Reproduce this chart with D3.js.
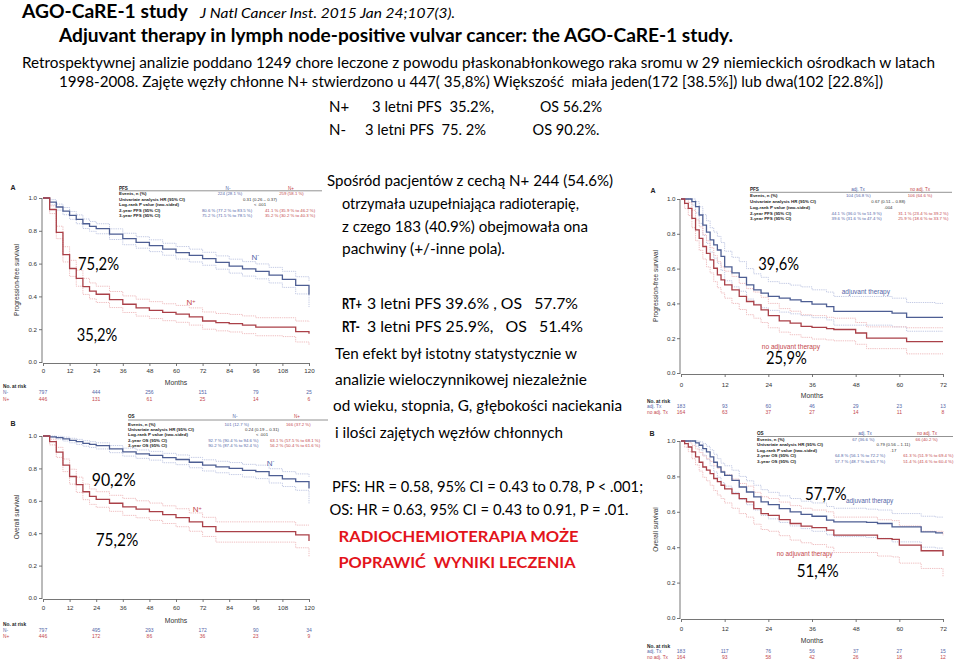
<!DOCTYPE html>
<html><head><meta charset="utf-8">
<script src="https://cdn.jsdelivr.net/npm/d3@7"></script>
<style>body{margin:0;background:#fff;} svg{display:block;} text{white-space:pre;}</style>
</head><body><svg id="c" width="960" height="663"></svg>
<script>
// ---------- DATA ----------
const yTicks = [0, 0.2, 0.4, 0.6, 0.8, 1.0];
const xTicksLeft = [0, 12, 24, 36, 48, 60, 72, 84, 96, 108, 120];
const xTicksRight = [0, 12, 24, 36, 48, 60, 72];

const monthsLeft = [0,3,6,9,12,15,18,21,24,30,36,42,48,54,60,66,72,78,84,90,96,102,108,114,120];
const pfsNneg   = [1.0,0.975,0.945,0.92,0.894,0.87,0.843,0.827,0.813,0.78,0.752,0.73,0.71,0.688,0.667,0.65,0.63,0.607,0.585,0.568,0.553,0.53,0.504,0.467,0.41];
const pfsNnegHi = [1.0,0.99,0.963,0.942,0.918,0.897,0.872,0.857,0.843,0.812,0.785,0.764,0.745,0.724,0.704,0.688,0.669,0.647,0.627,0.612,0.598,0.577,0.553,0.52,0.49];
const pfsNnegLo = [1.0,0.958,0.926,0.898,0.87,0.843,0.814,0.797,0.782,0.747,0.715,0.694,0.673,0.651,0.628,0.61,0.59,0.566,0.542,0.524,0.507,0.482,0.455,0.415,0.335];
const pfsNpos   = [1.0,0.93,0.79,0.655,0.57,0.51,0.46,0.432,0.413,0.38,0.352,0.33,0.315,0.302,0.292,0.275,0.25,0.24,0.234,0.225,0.213,0.213,0.213,0.185,0.173];
const pfsNposHi = [1.0,0.952,0.828,0.703,0.62,0.56,0.51,0.482,0.462,0.43,0.403,0.383,0.368,0.355,0.345,0.33,0.305,0.296,0.29,0.281,0.27,0.27,0.27,0.25,0.245];
const pfsNposLo = [1.0,0.905,0.752,0.61,0.522,0.462,0.412,0.385,0.363,0.332,0.302,0.28,0.265,0.252,0.242,0.225,0.2,0.19,0.183,0.173,0.16,0.16,0.155,0.122,0.1];
const osNneg    = [1.0,0.995,0.99,0.982,0.973,0.965,0.955,0.948,0.94,0.92,0.902,0.89,0.88,0.866,0.855,0.838,0.82,0.81,0.8,0.788,0.78,0.755,0.735,0.718,0.676];
const osNnegHi  = [1.0,1.0,0.998,0.993,0.986,0.979,0.971,0.965,0.958,0.941,0.925,0.914,0.905,0.893,0.883,0.868,0.853,0.844,0.836,0.825,0.82,0.798,0.78,0.766,0.748];
const osNnegLo  = [1.0,0.99,0.981,0.969,0.958,0.948,0.937,0.929,0.92,0.897,0.876,0.862,0.851,0.835,0.823,0.804,0.784,0.773,0.762,0.747,0.737,0.71,0.688,0.665,0.584];
const osNpos    = [1.0,0.965,0.9,0.82,0.75,0.7,0.656,0.627,0.609,0.585,0.563,0.548,0.533,0.515,0.496,0.47,0.44,0.41,0.41,0.41,0.41,0.41,0.41,0.39,0.352];
const osNposHi  = [1.0,0.98,0.93,0.858,0.795,0.746,0.703,0.673,0.656,0.634,0.615,0.6,0.586,0.569,0.551,0.525,0.498,0.47,0.47,0.47,0.47,0.47,0.47,0.45,0.45];
const osNposLo  = [1.0,0.945,0.868,0.78,0.703,0.652,0.607,0.578,0.56,0.535,0.51,0.495,0.479,0.46,0.44,0.412,0.38,0.345,0.345,0.345,0.345,0.345,0.345,0.31,0.256];

const monthsRight = [0,1,2,3,4,5,6,7,8,9,10,11,12,14,16,18,20,22,24,27,30,33,36,40,42,48,51,54,58,60,62,66,70,72];
const pfsAdj     = [1,1,1,0.985,0.956,0.908,0.85,0.81,0.765,0.736,0.707,0.67,0.61,0.575,0.55,0.507,0.478,0.459,0.44,0.43,0.42,0.41,0.396,0.382,0.354,0.354,0.354,0.354,0.344,0.344,0.32,0.32,0.32,0.32];
const pfsAdjHi   = [1,1,1,1,0.985,0.955,0.91,0.875,0.835,0.81,0.785,0.75,0.70,0.665,0.64,0.60,0.57,0.55,0.525,0.515,0.505,0.495,0.478,0.465,0.44,0.44,0.44,0.44,0.43,0.43,0.405,0.405,0.40,0.40];
const pfsAdjLo   = [1,1,1,0.965,0.92,0.86,0.79,0.745,0.695,0.66,0.63,0.59,0.53,0.495,0.47,0.425,0.395,0.375,0.36,0.35,0.34,0.33,0.318,0.305,0.275,0.275,0.275,0.275,0.265,0.265,0.24,0.24,0.24,0.24];
const pfsNoAdj   = [1,0.975,0.946,0.889,0.822,0.774,0.727,0.688,0.65,0.602,0.564,0.535,0.507,0.478,0.44,0.411,0.392,0.363,0.33,0.30,0.287,0.268,0.262,0.255,0.25,0.23,0.2,0.2,0.2,0.2,0.18,0.18,0.18,0.18];
const pfsNoAdjHi = [1,1,0.98,0.935,0.88,0.84,0.795,0.76,0.72,0.675,0.64,0.61,0.585,0.555,0.515,0.485,0.465,0.435,0.40,0.37,0.355,0.335,0.33,0.32,0.315,0.29,0.265,0.265,0.265,0.265,0.26,0.26,0.26,0.26];
const pfsNoAdjLo = [1,0.945,0.905,0.835,0.76,0.705,0.655,0.61,0.575,0.525,0.49,0.46,0.43,0.40,0.365,0.335,0.315,0.29,0.26,0.235,0.22,0.205,0.195,0.19,0.185,0.165,0.14,0.14,0.14,0.14,0.11,0.11,0.11,0.11];
const osAdj      = [1,1,1,1,0.989,0.976,0.957,0.938,0.91,0.88,0.853,0.825,0.806,0.778,0.74,0.712,0.684,0.656,0.64,0.618,0.6,0.586,0.575,0.553,0.543,0.543,0.54,0.534,0.515,0.515,0.515,0.487,0.481,0.481];
const osAdjHi    = [1,1,1,1,1,0.995,0.985,0.97,0.95,0.925,0.9,0.875,0.86,0.835,0.8,0.775,0.75,0.725,0.71,0.69,0.675,0.66,0.65,0.63,0.62,0.62,0.615,0.61,0.59,0.59,0.59,0.575,0.57,0.57];
const osAdjLo    = [1,1,1,1,0.97,0.95,0.92,0.895,0.86,0.825,0.795,0.765,0.745,0.71,0.67,0.64,0.61,0.58,0.56,0.54,0.52,0.505,0.49,0.47,0.46,0.46,0.455,0.45,0.43,0.43,0.43,0.40,0.395,0.395];
const osNoAdj    = [1,0.985,0.966,0.938,0.91,0.88,0.853,0.835,0.816,0.788,0.77,0.75,0.73,0.703,0.675,0.656,0.618,0.59,0.58,0.556,0.534,0.519,0.511,0.496,0.468,0.468,0.468,0.449,0.444,0.412,0.412,0.38,0.38,0.35];
const osNoAdjHi  = [1,1,0.99,0.975,0.955,0.935,0.915,0.9,0.885,0.86,0.845,0.83,0.81,0.785,0.76,0.745,0.71,0.685,0.675,0.655,0.635,0.62,0.61,0.6,0.57,0.57,0.57,0.555,0.55,0.52,0.52,0.49,0.49,0.465];
const osNoAdjLo  = [1,0.965,0.94,0.9,0.865,0.83,0.795,0.775,0.75,0.72,0.695,0.675,0.65,0.62,0.59,0.57,0.53,0.5,0.49,0.465,0.44,0.425,0.415,0.4,0.37,0.37,0.37,0.35,0.345,0.31,0.31,0.28,0.28,0.235];

const riskMonthsLeft = [0, 24, 48, 72, 96, 120];
const riskPfsNneg = [797, 444, 256, 151, 79, 25];
const riskPfsNpos = [446, 131, 61, 25, 14, 6];
const riskOsNneg  = [797, 495, 293, 172, 90, 34];
const riskOsNpos  = [446, 172, 86, 36, 23, 9];
const riskMonthsRight = [0, 12, 24, 36, 48, 60, 72];
const riskPfsAdj   = [183, 93, 60, 46, 29, 23, 13];
const riskPfsNoAdj = [164, 63, 37, 27, 14, 11, 8];
const riskOsAdj    = [183, 117, 76, 56, 37, 27, 15];
const riskOsNoAdj  = [164, 93, 58, 42, 26, 18, 12];

const rowLabelsPfs = ["Events, n (%)", "Univariate analysis HR (95% CI)", "Log-rank P value (two-sided)", "2-year PFS (95% CI)", "3-year PFS (95% CI)"];
const rowLabelsOs  = ["Events, n (%)", "Univariate analysis HR (95% CI)", "Log-rank P value (two-sided)", "2-year OS (95% CI)", "3-year OS (95% CI)"];
const tabLeftA  = [["224 (28.1 %)", "259 (58.1 %)"], "0.31 (0.26 – 0.37)", "< .001", ["80.6 % (77.2 % to 83.5 %)", "41.1 % (35.9 % to 46.2 %)"], ["75.2 % (71.5 % to 78.5 %)", "35.2 % (30.2 % to 40.3 %)"]];
const tabLeftB  = [["101 (12.7 %)", "166 (37.2 %)"], "0.24 (0.19 – 0.31)", "< .001", ["92.7 % (90.4 % to 94.6 %)", "63.1 % (57.5 % to 68.1 %)"], ["90.2 % (87.4 % to 92.4 %)", "56.2 % (50.4 % to 61.6 %)"]];
const tabRightA = [["104 (56.8 %)", "106 (64.6 %)"], "0.67 (0.51 – 0.88)", ".004", ["44.1 % (36.0 % to 51.9 %)", "31.1 % (23.4 % to 39.2 %)"], ["39.6 % (31.6 % to 47.4 %)", "25.9 % (18.6 % to 33.7 %)"]];
const tabRightB = [["67 (36.6 %)", "66 (40.2 %)"], "0.79 (0.56 – 1.11)", ".17", ["64.8 % (56.1 % to 72.2 %)", "61.3 % (51.9 % to 69.4 %)"], ["57.7 % (48.7 % to 65.7 %)", "51.4 % (41.6 % to 60.4 %)"]];

// ---------- STYLE ----------
const BODY = "Lato, 'Open Sans', sans-serif";
const CH = "'Liberation Sans', Arial, sans-serif";
const BLUE = "#4d5e93", RED = "#aa4048";
const BLUE_T = "#5466a8", RED_T = "#c4484d";
const BLUE_CI = "#c3cae4", RED_CI = "#efbfc1";
const svg = d3.select("#c");

function txt(parent, x, y, s, o) {
  o = o || {};
  const t = parent.append("text").attr("x", x).attr("y", y).text(s)
    .attr("font-family", o.font || BODY).attr("font-size", o.size || 15)
    .attr("fill", o.color || "#000");
  if (o.weight) t.attr("font-weight", o.weight);
  if (o.style) t.attr("font-style", o.style);
  if (o.anchor) t.attr("text-anchor", o.anchor);
  if (o.w) t.attr("textLength", o.w).attr("lengthAdjust", "spacingAndGlyphs");
  return t;
}

// ---------- SLIDE TEXT ----------
txt(svg, 22, 17.5, "AGO-CaRE-1 study", {size: 18.5, weight: 700, w: 166});
txt(svg, 200, 17.5, "J Natl Cancer Inst. 2015 Jan 24;107(3).", {size: 14, style: "italic", w: 255});
txt(svg, 59, 41.5, "Adjuvant therapy in lymph node-positive vulvar cancer: the AGO-CaRE-1 study.", {size: 18.5, weight: 700, w: 674});
txt(svg, 22, 68.3, "Retrospektywnej analizie poddano 1249 chore leczone z powodu płaskonabłonkowego raka sromu w 29 niemieckich ośrodkach w latach", {size: 14.5, w: 913});
txt(svg, 59, 86.5, "1998-2008. Zajęte węzły chłonne N+ stwierdzono u 447( 35,8%) Większość  miała jeden(172 [38.5%]) lub dwa(102 [22.8%])", {size: 14.5, w: 824});
txt(svg, 329, 112, "N+", {size: 15});
txt(svg, 372, 112, "3 letni PFS  35.2%,", {size: 15, w: 122});
txt(svg, 540, 112, "OS 56.2%", {size: 15, w: 62});
txt(svg, 329, 134.5, "N-", {size: 15});
txt(svg, 365, 134.5, "3 letni PFS  75. 2%", {size: 15, w: 121});
txt(svg, 532.5, 134.5, "OS 90.2%.", {size: 15, w: 67});

txt(svg, 327, 186, "Spośród pacjentów z cechą N+ 244 (54.6%)", {size: 15, w: 286});
txt(svg, 342, 209.3, "otrzymała uzupełniająca radioterapię,", {size: 15, w: 237});
txt(svg, 342, 231.7, "z czego 183 (40.9%) obejmowała ona", {size: 15, w: 246});
txt(svg, 342, 254, "pachwiny (+/-inne pola).", {size: 15, w: 163});
txt(svg, 342, 309.3, "RT+", {size: 15, weight: 700, w: 20});
txt(svg, 367, 309.3, "3 letni PFS 39.6% , OS   57.7%", {size: 15, w: 211});
txt(svg, 342, 331.7, "RT-", {size: 15, weight: 700, w: 18});
txt(svg, 367, 331.7, "3 letni PFS 25.9%,   OS   51.4%", {size: 15, w: 216});
txt(svg, 335, 359.3, "Ten efekt był istotny statystycznie w", {size: 15, w: 242});
txt(svg, 335, 385, "analizie wieloczynnikowej niezależnie", {size: 15, w: 252});
txt(svg, 333, 410.7, "od wieku, stopnia, G, głębokości naciekania", {size: 15, w: 289});
txt(svg, 335, 438.3, "i ilości zajętych węzłów chłonnych", {size: 15, w: 228});
txt(svg, 332, 491.7, "PFS: HR = 0.58, 95% CI = 0.43 to 0.78, P < .001;", {size: 15, w: 311});
txt(svg, 329.5, 515, "OS: HR = 0.63, 95% CI = 0.43 to 0.91, P = .01.", {size: 15, w: 299});
txt(svg, 338.5, 541.7, "RADIOCHEMIOTERAPIA MOŻE", {size: 15, weight: 700, color: "#e3141b", w: 240});
txt(svg, 338.5, 568.3, "POPRAWIĆ  WYNIKI LECZENIA", {size: 15, weight: 700, color: "#e3141b", w: 237});

// ---------- PANELS ----------
function panel(p) {
  const g = svg.append("g");
  const x = d3.scaleLinear().domain([0, p.xmax]).range([p.left, p.right]);
  const y = d3.scaleLinear().domain([0, 1]).range([p.bottom, p.top]);

  const xa = g.append("g").attr("transform", `translate(0,${p.bottom + 1})`)
    .call(d3.axisBottom(x).tickValues(p.xticks).tickSize(3).tickSizeOuter(0).tickPadding(p.xpad).tickFormat(d3.format("d")));
  const ya = g.append("g").attr("transform", `translate(${p.left - 1},0)`)
    .call(d3.axisLeft(y).tickValues(yTicks).tickSize(3).tickSizeOuter(0).tickPadding(p.ypad).tickFormat(d3.format(".1f")));
  [xa, ya].forEach(a => {
    a.selectAll("path,line").attr("stroke", "#666").attr("stroke-width", 0.9);
    a.selectAll("text").attr("font-family", CH).attr("font-size", 6.2).attr("fill", "#333");
  });
  ya.select(".domain").attr("d", `M0,${p.bottom + 1}V${p.top}`);

  const line = d3.line().x((d, i) => x(p.months[i])).y(d => y(d)).curve(d3.curveStepAfter);
  p.series.forEach(s => {
    [s.hi, s.lo].forEach(ci => g.append("path").attr("d", line(ci)).attr("fill", "none")
      .attr("stroke", s.ci).attr("stroke-width", 1).attr("stroke-dasharray", "1.3,0.9"));
  });
  p.series.forEach(s => g.append("path").attr("d", line(s.vals)).attr("fill", "none")
    .attr("stroke", s.color).attr("stroke-width", 1.3));

  // axis titles
  txt(g, (p.left + p.right) / 2, p.monthsY, "Months", {font: CH, size: 6.8, anchor: "middle", color: "#333"});
  txt(g, 0, 0, p.ytitle, {font: CH, size: 6.5, anchor: "middle", color: "#333"})
    .attr("transform", `translate(${p.ytitleX},${(p.top + p.bottom) / 2}) rotate(-90)`);
  txt(g, p.letterX, p.letterY, p.letter, {font: CH, size: 7, weight: 700, anchor: "middle", color: "#222"});

  // risk table
  txt(g, p.riskX, p.riskY[0], "No. at risk", {font: CH, size: 4.8, weight: 700, color: "#222"});
  p.risk.forEach((r, k) => {
    txt(g, p.riskX, p.riskY[k + 1], r.label, {font: CH, size: 4.8, color: r.color});
    r.vals.forEach((v, i) => txt(g, x(p.riskMonths[i]), p.riskY[k + 1], String(v),
      {font: CH, size: 5, anchor: "middle", color: r.color}));
  });

  // summary table
  const t = p.table;
  txt(g, t.x, t.hy, t.title, {font: CH, size: 4.6, weight: 700, color: "#222"});
  txt(g, t.c1, t.hy, t.h1, {font: CH, size: 4.6, anchor: "middle", color: BLUE_T});
  txt(g, t.c2, t.hy, t.h2, {font: CH, size: 4.6, anchor: "middle", color: RED_T});
  g.append("line").attr("x1", t.x).attr("x2", t.x2).attr("y1", t.ly).attr("y2", t.ly)
    .attr("stroke", "#777").attr("stroke-width", 0.8);
  t.labels.forEach((lab, i) => {
    const yy = t.rows[i];
    txt(g, t.x, yy, lab, {font: CH, size: 4.4, weight: 700, color: "#222"});
    const v = t.vals[i];
    if (Array.isArray(v)) {
      txt(g, i === 0 ? t.e1 : t.v1, yy, v[0], {font: CH, size: 4.3, anchor: "middle", color: BLUE_T});
      txt(g, i === 0 ? t.e2 : t.v2, yy, v[1], {font: CH, size: 4.3, anchor: "middle", color: RED_T});
    } else {
      txt(g, t.mid, yy, v, {font: CH, size: 4.3, anchor: "middle", color: "#333"});
    }
  });

  // curve labels
  p.labels.forEach(l => {
    const tt = txt(g, l.x, l.y, l.text, {font: CH, size: l.size, color: l.color});
    if (l.sup) tt.append("tspan").attr("dy", -2.5).attr("font-size", l.size * 0.7).text(l.sup);
    if (l.w) tt.attr("textLength", l.w).attr("lengthAdjust", "spacingAndGlyphs");
  });
  // overlay percentages
  p.overlays.forEach(o => txt(g, o.x, o.y, o.text, {size: 16.5, color: "#000", w: o.w}));
}

panel({
  left: 43, right: 309, top: 198, bottom: 362, xmax: 120, xticks: xTicksLeft, xpad: 2.5, ypad: 2,
  months: monthsLeft, monthsY: 384.5, ytitle: "Progression-free survival", ytitleX: 19, letter: "A", letterX: 13, letterY: 189.5,
  series: [
    {vals: pfsNneg, hi: pfsNnegHi, lo: pfsNnegLo, color: BLUE, ci: BLUE_CI},
    {vals: pfsNpos, hi: pfsNposHi, lo: pfsNposLo, color: RED, ci: RED_CI}],
  riskX: 3, riskY: [388, 394, 401], riskMonths: riskMonthsLeft,
  risk: [{label: "N-", vals: riskPfsNneg, color: BLUE_T}, {label: "N+", vals: riskPfsNpos, color: RED_T}],
  table: {title: "PFS", h1: "N-", h2: "N+", x: 119, x2: 322, hy: 189.5, ly: 190.8, c1: 228, c2: 291,
    rows: [195, 200.7, 206, 211.7, 217.4], labels: rowLabelsPfs, vals: tabLeftA,
    e1: 230, e2: 291.5, v1: 227, v2: 290, mid: 260},
  labels: [{text: "N", sup: "-", x: 251.5, y: 259.5, size: 8, color: BLUE_T},
           {text: "N", sup: "+", x: 186.5, y: 305, size: 8, color: RED_T}],
  overlays: [{text: "75,2%", x: 78, y: 270, w: 41}, {text: "35,2%", x: 76.7, y: 340.7, w: 40.6}]
});

panel({
  left: 43, right: 309, top: 436, bottom: 598, xmax: 120, xticks: xTicksLeft, xpad: 4, ypad: 2,
  months: monthsLeft, monthsY: 623, ytitle: "Overall survival", ytitleX: 19, letter: "B", letterX: 13, letterY: 425.5,
  series: [
    {vals: osNneg, hi: osNnegHi, lo: osNnegLo, color: BLUE, ci: BLUE_CI},
    {vals: osNpos, hi: osNposHi, lo: osNposLo, color: RED, ci: RED_CI}],
  riskX: 3, riskY: [626, 632, 637.7], riskMonths: riskMonthsLeft,
  risk: [{label: "N-", vals: riskOsNneg, color: BLUE_T}, {label: "N+", vals: riskOsNpos, color: RED_T}],
  table: {title: "OS", h1: "N-", h2: "N+", x: 128, x2: 328, hy: 418.3, ly: 420, c1: 235, c2: 297,
    rows: [425.8, 430.7, 436, 441.6, 446.7], labels: rowLabelsOs, vals: tabLeftB,
    e1: 236.7, e2: 298.3, v1: 233.3, v2: 295, mid: 262},
  labels: [{text: "N", sup: "-", x: 266.7, y: 465.7, size: 8, color: BLUE_T},
           {text: "N", sup: "+", x: 192.7, y: 512.3, size: 8, color: RED_T}],
  overlays: [{text: "90,2%", x: 91.7, y: 485.7, w: 44}, {text: "75,2%", x: 95.7, y: 546, w: 42.6}]
});

panel({
  left: 681, right: 943, top: 199, bottom: 373, xmax: 72, xticks: xTicksRight, xpad: 5.5, ypad: 1.5,
  months: monthsRight, monthsY: 398, ytitle: "Progression-free survival", ytitleX: 657.5, letter: "A", letterX: 653, letterY: 192.5,
  series: [
    {vals: pfsAdj, hi: pfsAdjHi, lo: pfsAdjLo, color: BLUE, ci: BLUE_CI},
    {vals: pfsNoAdj, hi: pfsNoAdjHi, lo: pfsNoAdjLo, color: RED, ci: RED_CI}],
  riskX: 647, riskY: [402.5, 407.5, 414], riskMonths: riskMonthsRight,
  risk: [{label: "adj. Tx", vals: riskPfsAdj, color: BLUE_T}, {label: "no adj. Tx", vals: riskPfsNoAdj, color: RED_T}],
  table: {title: "PFS", h1: "adj. Tx", h2: "no adj. Tx", x: 750, x2: 952, hy: 190.8, ly: 192.3, c1: 858, c2: 920,
    rows: [197.4, 203, 209, 214.7, 220.4], labels: rowLabelsPfs, vals: tabRightA,
    e1: 858.3, e2: 920, v1: 856.7, v2: 923.3, mid: 888.3},
  labels: [{text: "adjuvant therapy", x: 841.7, y: 294.3, size: 6.6, color: BLUE_T, w: 48.3},
           {text: "no adjuvant therapy", x: 761.7, y: 349, size: 6.6, color: RED_T, w: 58.3}],
  overlays: [{text: "39,6%", x: 758.3, y: 270, w: 40.7}, {text: "25,9%", x: 766, y: 364.3, w: 40.7}]
});

panel({
  left: 681, right: 943, top: 441, bottom: 618, xmax: 72, xticks: xTicksRight, xpad: 5, ypad: 1.5,
  months: monthsRight, monthsY: 643, ytitle: "Overall survival", ytitleX: 657.5, letter: "B", letterX: 652, letterY: 435.5,
  series: [
    {vals: osAdj, hi: osAdjHi, lo: osAdjLo, color: BLUE, ci: BLUE_CI},
    {vals: osNoAdj, hi: osNoAdjHi, lo: osNoAdjLo, color: RED, ci: RED_CI}],
  riskX: 647, riskY: [647.5, 652.5, 659], riskMonths: riskMonthsRight,
  risk: [{label: "adj. Tx", vals: riskOsAdj, color: BLUE_T}, {label: "no adj. Tx", vals: riskOsNoAdj, color: RED_T}],
  table: {title: "OS", h1: "adj. Tx", h2: "no adj. Tx", x: 757, x2: 953, hy: 435, ly: 436.5, c1: 865, c2: 927,
    rows: [440.7, 446, 451.7, 457.4, 462.7], labels: rowLabelsOs, vals: tabRightB,
    e1: 863.3, e2: 926.7, v1: 860, v2: 928.3, mid: 893.3},
  labels: [{text: "adjuvant therapy", x: 846, y: 503.3, size: 6.6, color: BLUE_T, w: 47.3},
           {text: "no adjuvant therapy", x: 776.7, y: 556, size: 6.6, color: RED_T, w: 56}],
  overlays: [{text: "57,7%", x: 805, y: 500, w: 41.7}, {text: "51,4%", x: 796.7, y: 577.3, w: 42}]
});
</script>
</body></html>
